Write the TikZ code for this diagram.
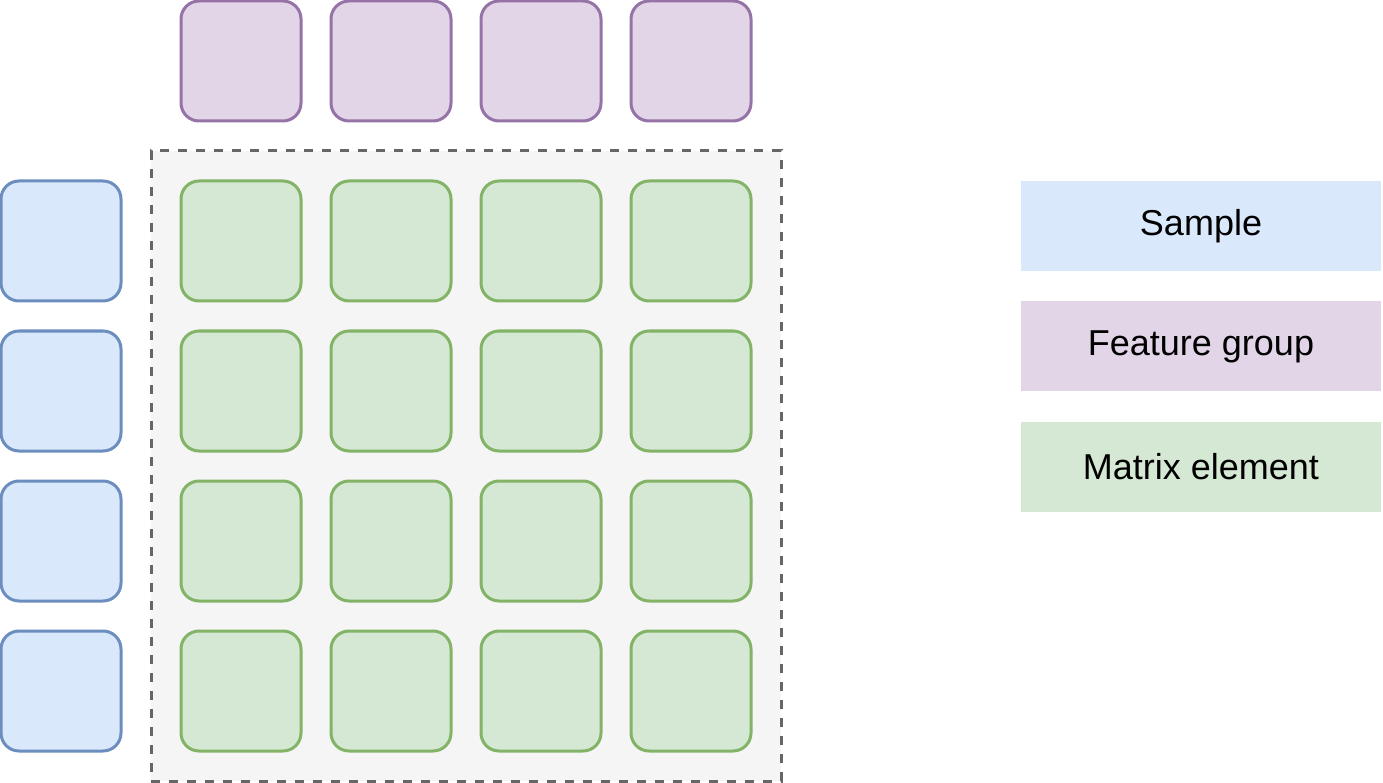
\documentclass[tikz,border=0pt]{standalone}
\usepackage{fontspec}
\setmainfont{Liberation Sans}
\usetikzlibrary{positioning}
\definecolor{sampleFill}{HTML}{DAE8FC}
\definecolor{sampleLine}{HTML}{6C8EBF}
\definecolor{featureFill}{HTML}{E1D5E7}
\definecolor{featureLine}{HTML}{9673A6}
\definecolor{elementFill}{HTML}{D5E8D4}
\definecolor{elementLine}{HTML}{82B366}
\definecolor{matrixFill}{HTML}{F5F5F5}
\definecolor{matrixLine}{HTML}{666666}
\tikzset{
    cell/.style={rectangle, draw, line width=3pt, rounded corners=18pt, minimum width=120pt, minimum height=120pt, inner sep=0pt},
    sample/.style={cell, fill=sampleFill, draw=sampleLine},
    feature/.style={cell, fill=featureFill, draw=featureLine},
    element/.style={cell, fill=elementFill, draw=elementLine},
    matrixbox/.style={rectangle, draw=matrixLine, fill=matrixFill, line width=3pt, dash pattern=on 9pt off 9pt, minimum width=630pt, minimum height=630pt, inner sep=0pt},
    legend/.style={rectangle, minimum width=360pt, minimum height=90pt, align=center, font=\fontsize{36}{43}\selectfont}
}

\begin{document}
\begin{tikzpicture}[x=1pt, y=-1pt, node distance=30pt]
    \useasboundingbox (0,0) rectangle (1383,783);
    % dashed matrix background
    \node[matrixbox] (matrix) at (466,466) {};
    % feature groups, samples and matrix elements
    \foreach \c in {1,...,4} {
        \node[feature] (f\c) at (91+150*\c, 61) {};
        \node[sample] (s\c) at (61, 91+150*\c) {};
        \foreach \r in {1,...,4}
            \node[element] (e\r\c) at (91+150*\c, 91+150*\r) {};
    }
    % legend
    \node[legend, fill=sampleFill] (lsample) at (1201,226) {Sample};
    \node[legend, fill=featureFill, below=of lsample] (lfeature) {Feature group};
    \node[legend, fill=elementFill, below=of lfeature] (lelement) {Matrix element};
\end{tikzpicture}
\end{document}
